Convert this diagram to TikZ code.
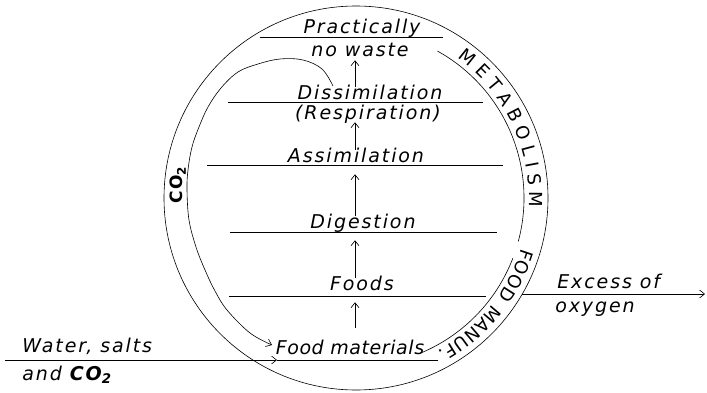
\documentclass[tikz,border=0pt]{standalone}
\usepackage{fontspec}
\usepackage{tikz}
\usetikzlibrary{arrows.meta,decorations.text}
\newfontfamily\hand[LetterSpace=10]{DejaVu Sans}
\newfontfamily\handnarrow[LetterSpace=3]{DejaVu Sans}
\newcommand{\capfont}{\hand\fontsize{18}{18}\selectfont}

\begin{document}
\begin{tikzpicture}[x=1pt, y=1pt, line width=0.6pt,
  >={Straight Barb[length=5pt,width=8pt]},
  lbl/.style={inner sep=0pt, anchor=base, text height=12pt, text depth=3pt,
    font=\hand\itshape\fontsize{19}{19}\selectfont},
  side/.style={lbl, anchor=base west},
  flow/.style={->, shorten >=9pt}]
\useasboundingbox (0,0) rectangle (707,392);
\coordinate (c) at (356,194);
\coordinate (spine) at (355,0);

\draw (c) circle[radius=192];
\draw ([shift={(61:168)}]c) arc[start angle=61, end angle=-15, radius=168];
\draw ([shift={(-21:168)}]c) arc[start angle=-21, end angle=-68, radius=168];

\path[decorate, decoration={text along path, text={|\capfont|METABOLISM},
  text align=fit to path}]
  ([shift={(54:173)}]c) arc[start angle=54, end angle=-3, radius=173];
\path[decorate, decoration={text along path, text={|\capfont|FOOD MANUF.},
  text align=fit to path}]
  ([shift={(-17:173)}]c) arc[start angle=-17, end angle=-62, radius=173];

\draw (260,355) -- (443,355);
\draw (228,290) -- (483,290);
\draw (207,227) -- (503,227);
\draw (230,160) -- (497,160);
\draw (229,96) -- (486,96);

\node[lbl] (prac) at (362,358) {Practically};
\node[lbl] (nowaste) at (360,335) {no waste};
\node[lbl] (dissim) at (370,293) {Dissimilation};
\node[lbl] (resp) at (368,273) {(Respiration)};
\node[lbl] (assim) at (356,230) {Assimilation};
\node[lbl] (digest) at (363,164) {Digestion};
\node[lbl] (foods) at (362,102) {Foods};
\node[lbl, font=\handnarrow\itshape\fontsize{19}{19}\selectfont]
  (foodmat) at (350,38) {Food materials};
\node[side] (water) at (22,40) {Water, salts};
\node[side] (andco) at (22,12) {and {\bfseries CO\textsubscript{2}}};
\node[side] (excess) at (557,104) {Excess of};
\node[side] (oxy) at (555,80) {oxygen};
\node[rotate=90, inner sep=0pt, font=\hand\bfseries\fontsize{17}{17}\selectfont]
  (coL) at (178,207) {CO\textsubscript{2}};

\draw[flow, shorten <=14pt] (foodmat.north -| spine) -- (foods.south -| spine);
\draw[flow] (foods.north -| spine) -- (digest.south -| spine);
\draw[flow] (digest.north -| spine) -- (assim.south -| spine);
\draw[->] (assim.north -| spine) -- (resp.south -| spine);
\draw[->] (dissim.north -| spine) -- (nowaste.south -| spine);

\coordinate (co2s) at (333,306);
\coordinate (co2e) at (272,47);
\draw[->] plot[smooth, tension=0.6] coordinates {(co2s) (322,323) (303,332)
  (280,333) (258,328) (238,320) (221,304) (208,285) (199,265) (192,245)
  (188,222) (187,202) (189,172) (196,145) (205,122) (215,101) (227,82)
  (250,59) (co2e)};

\coordinate (wl) at (5,32);
\coordinate (wm) at (277,32);
\coordinate (wr) at (438,32);
\draw[->] (wl) -- (wm);
\draw (wm) -- (wr);

\coordinate (ex0) at ([shift={(-30:192)}]c);
\coordinate (ex1) at (705,98);
\draw[->] (ex0) -- (ex1);
\end{tikzpicture}
\end{document}
